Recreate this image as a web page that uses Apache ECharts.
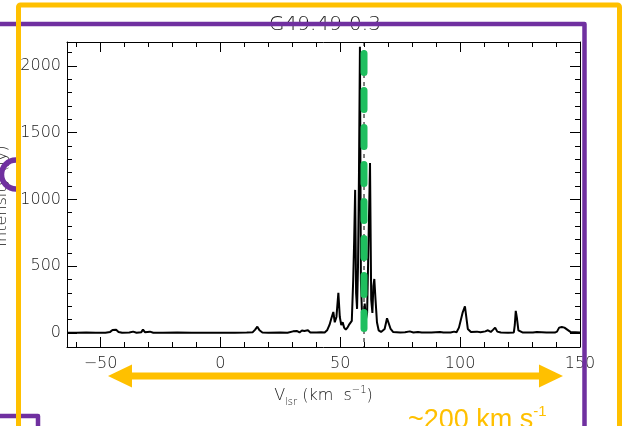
<!DOCTYPE html>
<html><head><meta charset="utf-8">
<script src="https://cdn.jsdelivr.net/npm/echarts@6/dist/echarts.min.js"></script>
<style>html,body{margin:0;padding:0;background:#fff;overflow:hidden}#c{width:625px;height:426px}</style>
</head><body><div id="c"></div>
<script>
// ---- data ----
const velocity = [-64,-60,-56,-52,-48,-46,-45,-44.3,-43.5,-42.5,-41,-38,-36.4,-35,-33,-32.3,-31.5,-29.4,-28,-24,-18,-12,-6,0,6,11,13.5,14.5,15.4,16.3,17.5,20,25,28,30.3,31,32,33,34,35,36.5,37.5,40,42,43.5,44.5,45.5,46.3,47.1,47.7,48.4,49.2,49.8,50.4,51,51.6,52.3,53,53.6,54.2,54.8,55.4,55.8,56.2,56.6,57,57.4,57.8,58.2,58.6,59.1,59.6,60.2,60.7,61.2,61.8,62.4,62.9,63.4,63.8,64.2,64.7,65.3,66,67,68.5,69.5,70.3,71,72,75,77,79,80.5,82.4,84,88,91.6,93,96,97.5,98.5,99.5,101,102,103.2,104.5,107,108.5,110.5,111.6,112.8,113.8,114.6,115.5,117,120,122.4,122.8,123.2,123.7,124.3,126,130.4,132,136,139.5,140.4,141.3,142.4,143.5,146,150];
const intensity = [2,1,3,1,2,8,22,30,24,8,2,3,10,2,6,25,6,10,2,1,3,1,2,1,2,3,6,25,47,20,4,2,3,2,12,6,14,4,18,15,20,4,3,5,3,20,60,110,157,80,120,300,120,60,80,40,25,40,60,75,90,400,700,1071,300,180,500,1200,2142,400,120,80,220,100,150,700,1273,250,150,350,404,250,80,20,8,30,110,105,30,8,4,6,12,4,8,3,4,8,3,3,10,6,40,150,200,30,8,10,5,12,20,8,25,40,10,3,2,4,60,165,110,20,4,3,8,3,3,10,40,45,40,8,3,2];
const xMajorTicks = [-50,0,50,100,150];
const xMinorTicks = [-60,-40,-30,-20,-10,10,20,30,40,60,70,80,90,110,120,130,140];
const yMajorTicks = [0,500,1000,1500,2000];
const yMinorTicks = [100,200,300,400,600,700,800,900,1100,1200,1300,1400,1600,1700,1800,1900,2100];
const markerVelocity = 59.9;
const greenSpan = [2092, 34];
const arrowSpan = [-46.9, 142.9];
const titleText = 'G49.49-0.3';
const yTitle = 'Intensity (Jy)';
const spanText = '~200 km s';

// ---- chart ----
const X_MIN = -64, X_MAX = 150, Y_MIN = -105, Y_MAX = 2178;
const FONT = 'DejaVu Sans';
const TXT = '#1a1a1a';
const labelStyle = {fontFamily: FONT, fontSize: 16, color: TXT, fontWeight: 300};
const chart = echarts.init(document.getElementById('c'), null, {renderer: 'canvas'});

function axis(kind, pos, ticks, len, withLabel, withLine) {
  const a = {
    type: 'value', position: pos, min: kind === 'x' ? X_MIN : Y_MIN, max: kind === 'x' ? X_MAX : Y_MAX,
    axisLine: {show: withLine, onZero: false, lineStyle: {color: '#000', width: 1}},
    axisTick: {show: true, inside: true, length: len, customValues: ticks, lineStyle: {color: '#000', width: 1}},
    axisLabel: {show: withLabel, customValues: ticks},
    splitLine: {show: false}, minorTick: {show: false}
  };
  if (withLabel) {
    a.axisLabel = Object.assign({show: true, customValues: ticks, margin: kind === 'x' ? 9 : 6,
      formatter: v => v < 0 ? '\u2212' + (-v) : String(v)}, labelStyle);
  }
  return a;
}

const xAxes = [
  axis('x', 'bottom', xMajorTicks, 10, true, true),
  axis('x', 'bottom', xMinorTicks, 5, false, false),
  axis('x', 'top', xMajorTicks, 10, false, true),
  axis('x', 'top', xMinorTicks, 5, false, false)
];
xAxes[0].name = '{v|V}{s|lsr}{v| (km  s}{p|\u22121}{v|)}';
xAxes[0].nameLocation = 'middle';
xAxes[0].nameGap = 38;
xAxes[0].nameTextStyle = {fontFamily: FONT, color: TXT, rich: {
  v: {fontFamily: FONT, fontSize: 16, fontWeight: 300, color: TXT, lineHeight: 22, verticalAlign: 'middle'},
  s: {fontFamily: FONT, fontSize: 10, fontWeight: 300, color: TXT, lineHeight: 12, verticalAlign: 'bottom'},
  p: {fontFamily: FONT, fontSize: 10, fontWeight: 300, color: TXT, lineHeight: 12, verticalAlign: 'top'}
}};
const yAxes = [
  axis('y', 'left', yMajorTicks, 10, true, true),
  axis('y', 'left', yMinorTicks, 5, false, false),
  axis('y', 'right', yMajorTicks, 10, false, true),
  axis('y', 'right', yMinorTicks, 5, false, false)
];

chart.setOption({
  animation: false,
  backgroundColor: '#fff',
  grid: {left: 67, right: 45, top: 42, bottom: 79, containLabel: false},
  xAxis: xAxes,
  yAxis: yAxes,
  series: [
    {type: 'line', xAxisIndex: 0, yAxisIndex: 0, showSymbol: false, symbol: 'none', clip: true,
     data: velocity.map((v, i) => [v, intensity[i]]),
     lineStyle: {color: '#000', width: 2}, z: 3},
    {type: 'line', xAxisIndex: 0, yAxisIndex: 0, showSymbol: false, symbol: 'none',
     data: [[markerVelocity, Y_MAX], [markerVelocity, Y_MIN]],
     lineStyle: {color: '#000', width: 1, type: [4, 4]}, z: 2},
    {type: 'line', xAxisIndex: 0, yAxisIndex: 0, showSymbol: false, symbol: 'none',
     data: [[markerVelocity, greenSpan[0]], [markerVelocity, greenSpan[1]]],
     lineStyle: {color: '#1fbf5f', width: 7, type: [19, 18], cap: 'round'}, z: 4}
  ]
});

const xl = chart.convertToPixel({xAxisIndex: 0}, arrowSpan[0]);
const xr = chart.convertToPixel({xAxisIndex: 0}, arrowSpan[1]);
const ay = 376, hw = 3.5, hh = 11.5, hl = 24;
const ORANGE = '#FFC000', PURPLE = '#7030A0';

chart.setOption({
  graphic: [
    {type: 'text', x: 325, y: 25, z: 50, style: {text: titleText, fontFamily: FONT, fontSize: 20, fontWeight: 300, fill: TXT, align: 'center', verticalAlign: 'middle'}},
    {type: 'text', x: 2, y: 196, rotation: Math.PI / 2, z: 50, style: {text: yTitle, fontFamily: FONT, fontSize: 16, fontWeight: 300, fill: TXT, align: 'center', verticalAlign: 'middle'}},
    {type: 'arc', z: 90, shape: {cx: 16, cy: 174.5, r: 14.5, startAngle: Math.PI / 2, endAngle: Math.PI * 1.5, clockwise: true}, style: {stroke: PURPLE, lineWidth: 5.5, fill: null}},
    {type: 'polyline', z: 100, shape: {points: [[-5, 24], [584.5, 24], [584.5, 440]]}, style: {stroke: PURPLE, lineWidth: 4.5, fill: null, lineJoin: 'round'}},
    {type: 'polyline', z: 100, shape: {points: [[-5, 416], [38, 416], [38, 440]]}, style: {stroke: PURPLE, lineWidth: 4.5, fill: null, lineJoin: 'round'}},
    {type: 'rect', z: 110, shape: {x: 18.5, y: 5, width: 601, height: 450, r: 2}, style: {stroke: ORANGE, lineWidth: 5, fill: null}},
    {type: 'polygon', z: 110, shape: {points: [
      [xl, ay], [xl + hl, ay - hh], [xl + hl, ay - hw], [xr - hl, ay - hw], [xr - hl, ay - hh],
      [xr, ay], [xr - hl, ay + hh], [xr - hl, ay + hw], [xl + hl, ay + hw], [xl + hl, ay + hh]]},
      style: {fill: ORANGE}},
    {type: 'text', x: 408, y: 404, z: 110, style: {
      text: '{a|' + spanText + '}{b|-1}', fill: ORANGE, fontFamily: 'Liberation Sans',
      rich: {a: {fontFamily: 'Liberation Sans', fontSize: 27, fill: ORANGE, color: ORANGE, lineHeight: 30, verticalAlign: 'bottom'},
             b: {fontFamily: 'Liberation Sans', fontSize: 15, fill: ORANGE, color: ORANGE, lineHeight: 16, verticalAlign: 'top'}}}}
  ]
});
</script>
</body></html>
